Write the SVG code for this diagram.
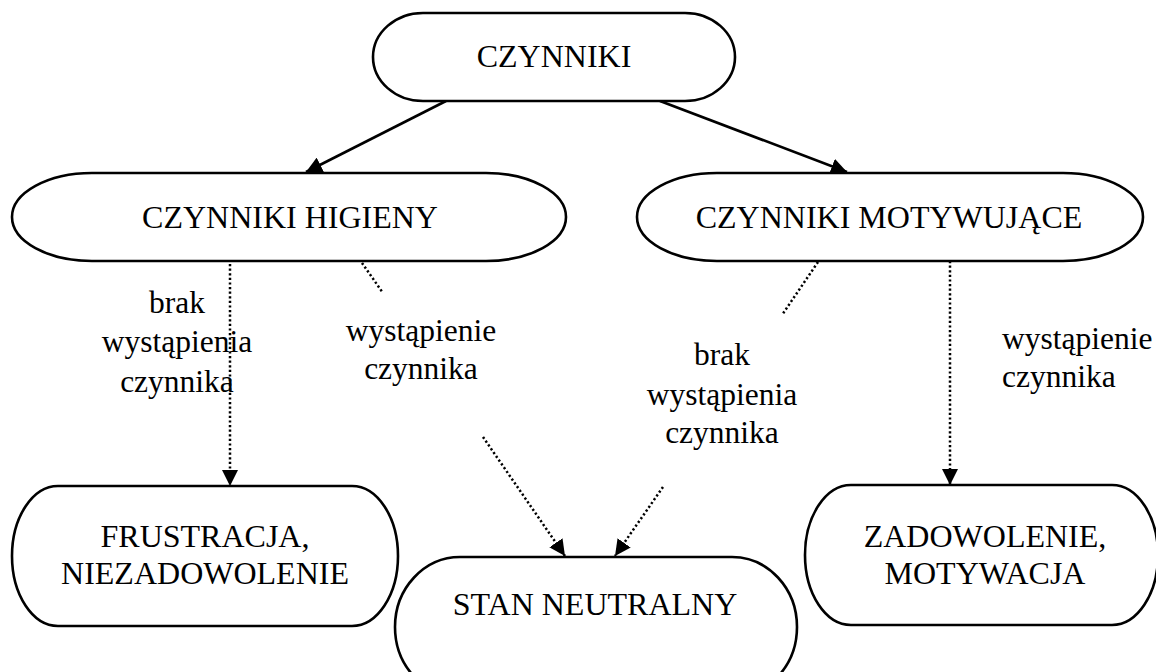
<svg xmlns="http://www.w3.org/2000/svg" width="1156" height="672" viewBox="0 0 1156 672">
<defs>
<style>
.node{fill:#fff;stroke:#000;stroke-width:2.6}
.t{font-family:'Liberation Serif','Times New Roman',Times,serif;font-size:32px;fill:#000;text-anchor:middle}
.l{font-family:'Liberation Serif','Times New Roman',Times,serif;font-size:31.5px;fill:#000}
.solid{stroke:#000;stroke-width:2.6;fill:none}
.dot{stroke:#000;stroke-width:2.5;fill:none;stroke-dasharray:2.2 2.4}
</style>
<marker id="ah" markerUnits="userSpaceOnUse" markerWidth="16" markerHeight="16" viewBox="0 0 15 15" refX="15" refY="7.5" orient="auto">
<path d="M0,0 L15,7.5 L0,15 Z" fill="#000"/>
</marker>
</defs>
<rect width="1156" height="672" fill="#fff"/>
<g id="connectors">
<line class="solid" x1="446" y1="101" x2="306" y2="172" marker-end="url(#ah)"/>
<line class="solid" x1="660" y1="101" x2="847" y2="172" marker-end="url(#ah)"/>
<line class="dot" x1="230" y1="264" x2="230" y2="486" marker-end="url(#ah)"/>
<line class="dot" x1="362" y1="263" x2="383" y2="293"/>
<line class="dot" x1="483" y1="437" x2="565" y2="556" marker-end="url(#ah)"/>
<line class="dot" x1="818" y1="262" x2="782" y2="315"/>
<line class="dot" x1="663" y1="487" x2="615" y2="556" marker-end="url(#ah)"/>
<line class="dot" x1="950" y1="261" x2="950" y2="485" marker-end="url(#ah)"/>
</g>
<g id="labels" font-family="Liberation Serif, serif">
<text class="l" text-anchor="middle" x="177" y="313">brak</text>
<text class="l" text-anchor="middle" x="177" y="352">wystąpienia</text>
<text class="l" text-anchor="middle" x="177" y="392">czynnika</text>
<text class="l" text-anchor="middle" x="421" y="341">wystąpienie</text>
<text class="l" text-anchor="middle" x="421" y="379">czynnika</text>
<text class="l" text-anchor="middle" x="722" y="365">brak</text>
<text class="l" text-anchor="middle" x="722" y="405">wystąpienia</text>
<text class="l" text-anchor="middle" x="722" y="443">czynnika</text>
<text class="l" x="1002" y="349">wystąpienie</text>
<text class="l" x="1002" y="387">czynnika</text>
</g>
<g id="czynniki">
<rect class="node" x="373" y="13" width="362" height="88" rx="50" ry="44"/>
<text class="t" x="554" y="67">CZYNNIKI</text>
</g>
<g id="higieny">
<rect class="node" x="12" y="173" width="554" height="88" rx="80" ry="44"/>
<text class="t" x="290" y="228">CZYNNIKI HIGIENY</text>
</g>
<g id="motywujace">
<rect class="node" x="637" y="173" width="506" height="88" rx="80" ry="44"/>
<text class="t" x="889" y="228">CZYNNIKI MOTYWUJĄCE</text>
</g>
<g id="frustracja">
<rect class="node" x="12" y="486" width="386" height="140" rx="46" ry="70"/>
<text class="t" x="205" y="547">FRUSTRACJA,</text>
<text class="t" x="205" y="584">NIEZADOWOLENIE</text>
</g>
<g id="stan">
<rect class="node" x="395" y="557" width="402" height="140" rx="65" ry="70"/>
<text class="t" x="595" y="615">STAN NEUTRALNY</text>
</g>
<g id="zadowolenie">
<rect class="node" x="805" y="485" width="353" height="140" rx="46" ry="70"/>
<text class="t" x="985" y="547">ZADOWOLENIE,</text>
<text class="t" x="985" y="584">MOTYWACJA</text>
</g>
</svg>
